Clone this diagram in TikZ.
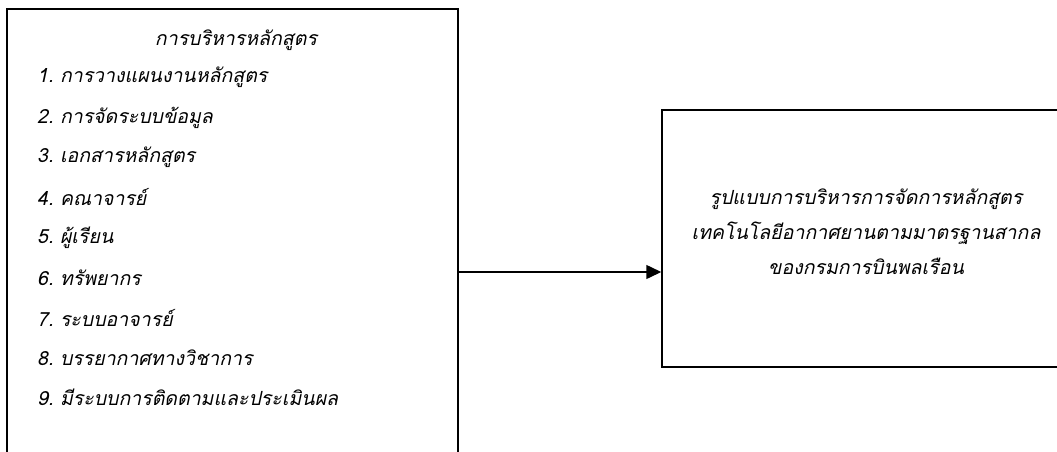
\documentclass[tikz,border=0pt]{standalone}
\usepackage{fontspec}
\newfontfamily\thaifont[Script=Thai]{Loma}
\usetikzlibrary{arrows.meta,positioning,calc}

\tikzset{
  box/.style={draw, line width=1.5pt, rectangle, inner sep=0pt},
  item/.style={anchor=west, inner sep=0pt, font=\thaifont\itshape\fontsize{19.5}{22}\selectfont},
  title/.style={inner sep=0pt, align=center, font=\thaifont\itshape\fontsize{19.5}{35}\selectfont}
}

\begin{document}
\begin{tikzpicture}[x=1pt,y=-1pt]

        \useasboundingbox (0,0) rectangle (1057,452);
        \clip (0,0) rectangle (1057,452);

        % left box, runs off the bottom
        \node[box, minimum width=451pt, minimum height=526pt] (mgmt) at (232.5,272) {};
        % right box, runs off the right side
        \node[box, minimum width=420pt, minimum height=257pt] (model) at (872,238.5) {};

        \node[title] (head) at (236,40) {การบริหารหลักสูตร};
        \foreach \n/\txt in {1/การวางแผนงานหลักสูตร, 2/การจัดระบบข้อมูล, 3/เอกสารหลักสูตร,
                4/คณาจารย์, 5/ผู้เรียน, 6/ทรัพยากร, 7/ระบบอาจารย์,
                8/บรรยากาศทางวิชาการ, 9/มีระบบการติดตามและประเมินผล}
            \node[item] (it\n) at (37,37.5+40*\n) {\n.\ \txt};

        \node[title] (modeltext) at (866,232) {รูปแบบการบริหารการจัดการหลักสูตร\\
                เทคโนโลยีอากาศยานตามมาตรฐานสากล\\ของกรมการบินพลเรือน};

        \draw[line width=1.5pt, -{Triangle[length=15pt,width=14pt]}] (mgmt.east) -- (mgmt.east -| model.west);

\end{tikzpicture}
\end{document}
